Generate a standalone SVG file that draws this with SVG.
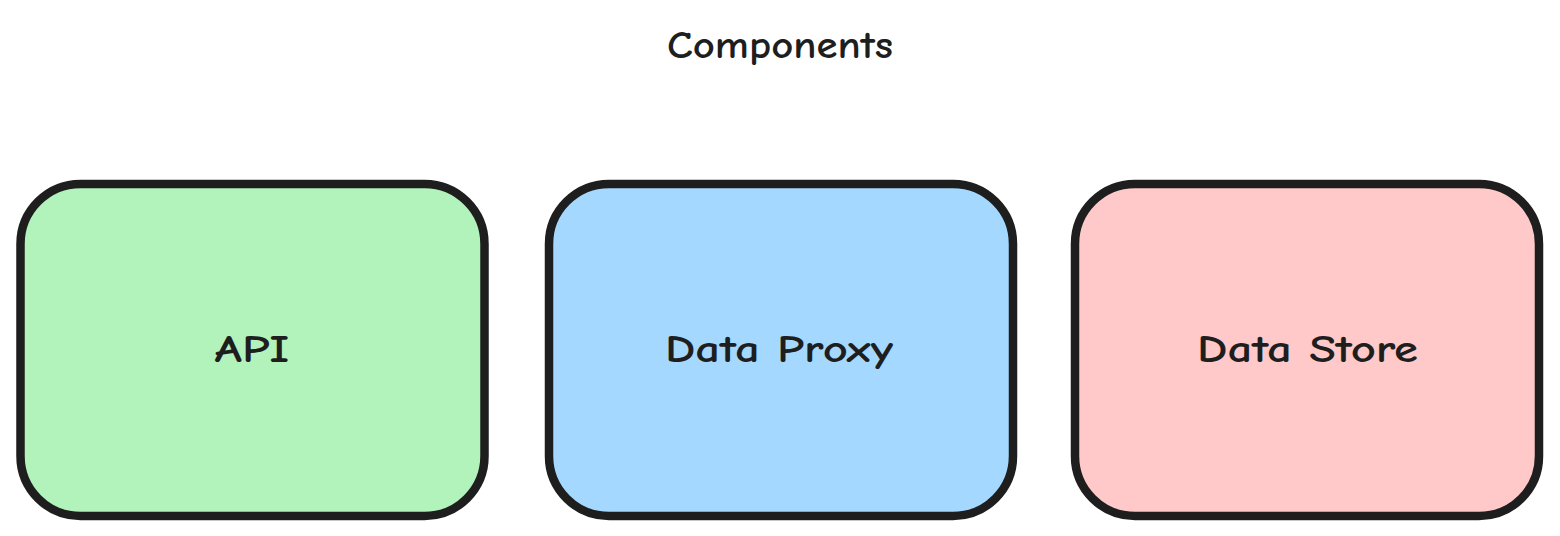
<svg xmlns="http://www.w3.org/2000/svg" width="1560" height="536" viewBox="0 0 1560 536">
  <style>
    .box { stroke: #1e1e1e; stroke-width: 8.5; stroke-linejoin: round; }
    .label { font-family: "Comic Neue", "Liberation Sans", "DejaVu Sans", sans-serif; font-size: 38px; font-weight: 700; fill: #1e1e1e; text-anchor: middle; }
  </style>
  <rect width="1560" height="536" fill="#ffffff"/>
  <g id="title">
    <text class="label" x="780" y="58" textLength="226" lengthAdjust="spacingAndGlyphs">Components</text>
  </g>
  <g id="node-api">
    <rect class="box" x="20.5" y="184" width="464" height="332" rx="60" ry="60" fill="#b2f2bb"/>
    <text class="label" x="252" y="362" textLength="75" lengthAdjust="spacingAndGlyphs">API</text>
  </g>
  <g id="node-data-proxy">
    <rect class="box" x="549" y="184" width="464" height="332" rx="60" ry="60" fill="#a5d8ff"/>
    <text class="label" x="779" y="362" textLength="228" lengthAdjust="spacingAndGlyphs">Data Proxy</text>
  </g>
  <g id="node-data-store">
    <rect class="box" x="1075" y="184" width="464" height="332" rx="60" ry="60" fill="#ffc9c9"/>
    <text class="label" x="1307.5" y="362" textLength="221" lengthAdjust="spacingAndGlyphs">Data Store</text>
  </g>
  <g id="connectors"></g>
</svg>
